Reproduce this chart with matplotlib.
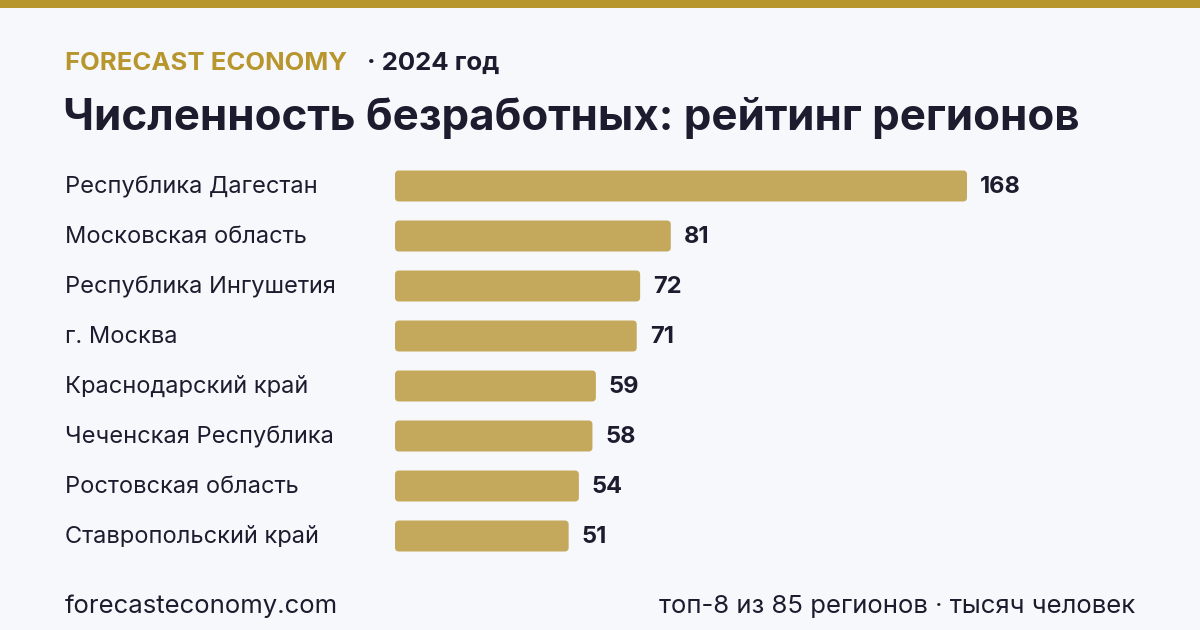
import matplotlib
matplotlib.use("Agg")
import matplotlib.pyplot as plt
from matplotlib.patches import FancyBboxPatch, Rectangle

plt.rcParams['font.family'] = ['Inter', 'DejaVu Sans']

regions = ["Республика Дагестан", "Московская область", "Республика Ингушетия",
           "г. Москва", "Краснодарский край", "Чеченская Республика",
           "Ростовская область", "Ставропольский край"]
values = [168, 81, 72, 71, 59, 58, 54, 51]

BG = "#f7f8fc"
GOLD = "#b8962e"
BAR = "#c4a95c"
DARK = "#1c1c2e"

W, H = 1200, 630
fig = plt.figure(figsize=(12, 6.3), dpi=100, facecolor=BG)

# top stripe
fig.patches.append(Rectangle((0, 1 - 8 / H), 1, 8 / H, transform=fig.transFigure,
                             facecolor=GOLD, edgecolor="none"))

# header
fig.text(65 / W, 1 - 70 / H, "FORECAST ECONOMY", color=GOLD, fontsize=18.5,
         fontweight="bold", va="baseline")
fig.text(367 / W, 1 - 70 / H, "· 2024 год", color=DARK, fontsize=18.5,
         fontweight="bold", va="baseline")
fig.text(63 / W, 1 - 130 / H, "Численность безработных: рейтинг регионов",
         color=DARK, fontsize=31.6, fontweight="bold", va="baseline")

# bars axes: x 395..967 px for 0..168
ax = fig.add_axes([395 / W, 1 - 561 / H, (967 - 395) / W, 400 / H])
ax.set_facecolor("none")
ax.set_xlim(0, 168)
ax.set_ylim(len(values) - 0.5, -0.5)
ax.axis("off")

bh = 0.62
px_x = (967 - 395) / 168
rs = 4 / px_x
asp = (4 / 50) / rs
for i, v in enumerate(values):
    ax.add_patch(FancyBboxPatch((0, i - bh / 2), v, bh,
                                boxstyle=f"round,pad=0,rounding_size={rs}",
                                mutation_aspect=asp, facecolor=BAR, edgecolor="none"))
    ax.text(v + 13 / px_x, i + 0.02, str(v), color=DARK, fontsize=17, fontweight="bold",
            va="center", ha="left")
    ax.text(-330 / px_x, i + 0.02, regions[i], color=DARK, fontsize=17,
            va="center", ha="left")

# footer
fig.text(65 / W, 1 - 613 / H, "forecasteconomy.com", color=DARK, fontsize=18.5,
         va="baseline")
fig.text(1135 / W, 1 - 613 / H, "топ-8 из 85 регионов · тысяч человек", color=DARK,
         fontsize=18.5, va="baseline", ha="right")

fig.savefig("out.png", dpi=100, facecolor=BG)
